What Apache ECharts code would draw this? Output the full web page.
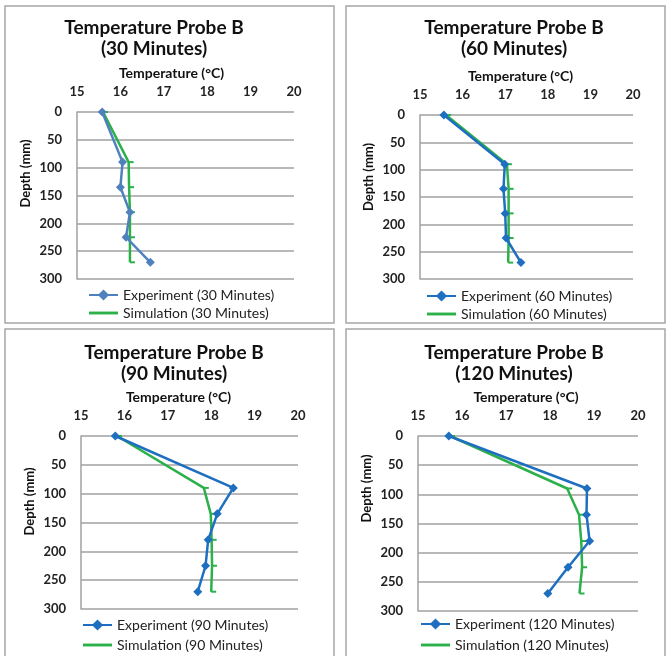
<!DOCTYPE html>
<html>
<head>
<meta charset="utf-8">
<script src="https://cdn.jsdelivr.net/npm/echarts@6/dist/echarts.min.js"></script>
<style>
  html, body { margin: 0; padding: 0; background: #fff; }
  #main { width: 666px; height: 656px; }
</style>
</head>
<body>
<div id="main"></div>
<script>
// depth of each probe reading (mm)
const depths = [0, 90, 135, 180, 225, 270];
const minutes = [30, 60, 90, 120];

// temperatures (°C)
const exp30 = [15.58, 16.05, 16.0, 16.22, 16.13, 16.69];
const sim30 = [15.6, 16.19, 16.2, 16.22, 16.22, 16.22];
const exp60 = [15.56, 16.99, 16.96, 17.0, 17.02, 17.37];
const sim60 = [15.61, 17.04, 17.08, 17.08, 17.08, 17.07];
const exp90 = [15.79, 18.51, 18.14, 17.93, 17.87, 17.69];
const sim90 = [15.83, 17.83, 17.99, 18.01, 18.02, 18.0];
const exp120 = [15.7, 18.84, 18.83, 18.9, 18.41, 17.95];
const sim120 = [15.73, 18.39, 18.66, 18.71, 18.73, 18.67];

const experiments = [exp30, exp60, exp90, exp120];
const simulations = [sim30, sim60, sim90, sim120];

// panel layout (pixels)
const panels = [
  { box: [5, 6, 329, 317], grid: [77, 112, 217, 167], title: [149, 12], legend: [88, 288], gap: 4, xShift: 28, yShift: 44, blue: '#4f81bd' },
  { box: [346, 6, 319, 317], grid: [420, 115, 213, 164], title: [509, 12], legend: [426, 289], gap: 4, xShift: 12, yShift: 40, blue: '#1f6fc1' },
  { box: [5, 329, 329, 340], grid: [81, 436, 217, 173], title: [169, 337], legend: [82, 618], gap: 6, xShift: 22, yShift: 42, blue: '#1f6fc1' },
  { box: [346, 329, 319, 340], grid: [418, 436, 220, 175], title: [509, 337], legend: [420, 617], gap: 7, xShift: 4, yShift: 70, blue: '#1f6fc1' }
];

const font = 'Lato, "Open Sans", sans-serif';
const green = '#2bb04a';

const toPoints = (temps) => temps.map((t, i) => [t, depths[i]]);

const option = {
  animation: false,
  textStyle: { fontFamily: font },
  title: [],
  legend: [],
  grid: [],
  xAxis: [],
  yAxis: [],
  series: [],
  graphic: []
};

panels.forEach(function (p, k) {
  const m = minutes[k];
  const expName = 'Experiment (' + m + ' Minutes)';
  const simName = 'Simulation (' + m + ' Minutes)';

  option.graphic.push({
    type: 'rect',
    shape: { x: p.box[0], y: p.box[1], width: p.box[2], height: p.box[3] },
    style: { fill: 'none', stroke: '#a6a6a6', lineWidth: 1.5 },
    z: -1
  });

  option.title.push({
    text: 'Temperature Probe B\n(' + m + ' Minutes)',
    left: p.title[0],
    top: p.title[1],
    textAlign: 'center',
    textStyle: { fontFamily: font, fontSize: 19, fontWeight: 'bold', color: '#111', lineHeight: 21 }
  });

  option.grid.push({ left: p.grid[0], top: p.grid[1], width: p.grid[2], height: p.grid[3] });

  option.xAxis.push({
    type: 'value',
    gridIndex: k,
    position: 'top',
    min: 15,
    max: 20,
    interval: 1,
    name: 'Temperature (°C)',
    nameLocation: 'middle',
    nameGap: 32,
    nameTextStyle: { fontFamily: font, fontSize: 14, fontWeight: 'bold', color: '#111', padding: [0, p.xShift, 0, 0] },
    axisLine: { show: false },
    axisTick: { show: false },
    splitLine: { show: false },
    axisLabel: { margin: 14, fontFamily: font, fontSize: 13, fontWeight: 'bold', color: '#222' }
  });

  option.yAxis.push({
    type: 'value',
    gridIndex: k,
    inverse: true,
    min: 0,
    max: 300,
    interval: 50,
    name: 'Depth (mm)',
    nameLocation: 'middle',
    nameGap: 45,
    nameTextStyle: { fontFamily: font, fontSize: 13, fontWeight: 'bold', color: '#111', padding: [0, 0, 0, p.yShift] },
    axisLine: { show: true, lineStyle: { color: '#a0a0a0', width: 1.5 } },
    axisTick: { show: false },
    splitLine: { show: true, lineStyle: { color: '#a0a0a0', width: 1.5 } },
    axisLabel: { margin: 15, fontFamily: font, fontSize: 13, fontWeight: 'bold', color: '#222' }
  });

  option.legend.push({
    orient: 'vertical',
    left: p.legend[0],
    top: p.legend[1],
    padding: 0,
    itemWidth: 29,
    itemHeight: 14,
    itemGap: p.gap,
    textStyle: { fontFamily: font, fontSize: 14, color: '#222' },
    data: [
      { name: expName },
      { name: simName, icon: 'path://M0,0H30V3H0Z' }
    ]
  });

  option.series.push({
    name: simName,
    type: 'line',
    xAxisIndex: k,
    yAxisIndex: k,
    data: toPoints(simulations[k]),
    symbol: 'rect',
    symbolSize: [5, 2],
    symbolOffset: [2.5, 0],
    showAllSymbol: true,
    lineStyle: { color: green, width: 2.5 },
    itemStyle: { color: green },
    z: 2
  });

  option.series.push({
    name: expName,
    type: 'line',
    xAxisIndex: k,
    yAxisIndex: k,
    data: toPoints(experiments[k]),
    symbol: 'diamond',
    symbolSize: 9,
    showAllSymbol: true,
    lineStyle: { color: p.blue, width: 2.5 },
    itemStyle: { color: p.blue },
    z: 3
  });
});

const myChart = echarts.init(document.getElementById('main'));
myChart.setOption(option);
</script>
</body>
</html>
